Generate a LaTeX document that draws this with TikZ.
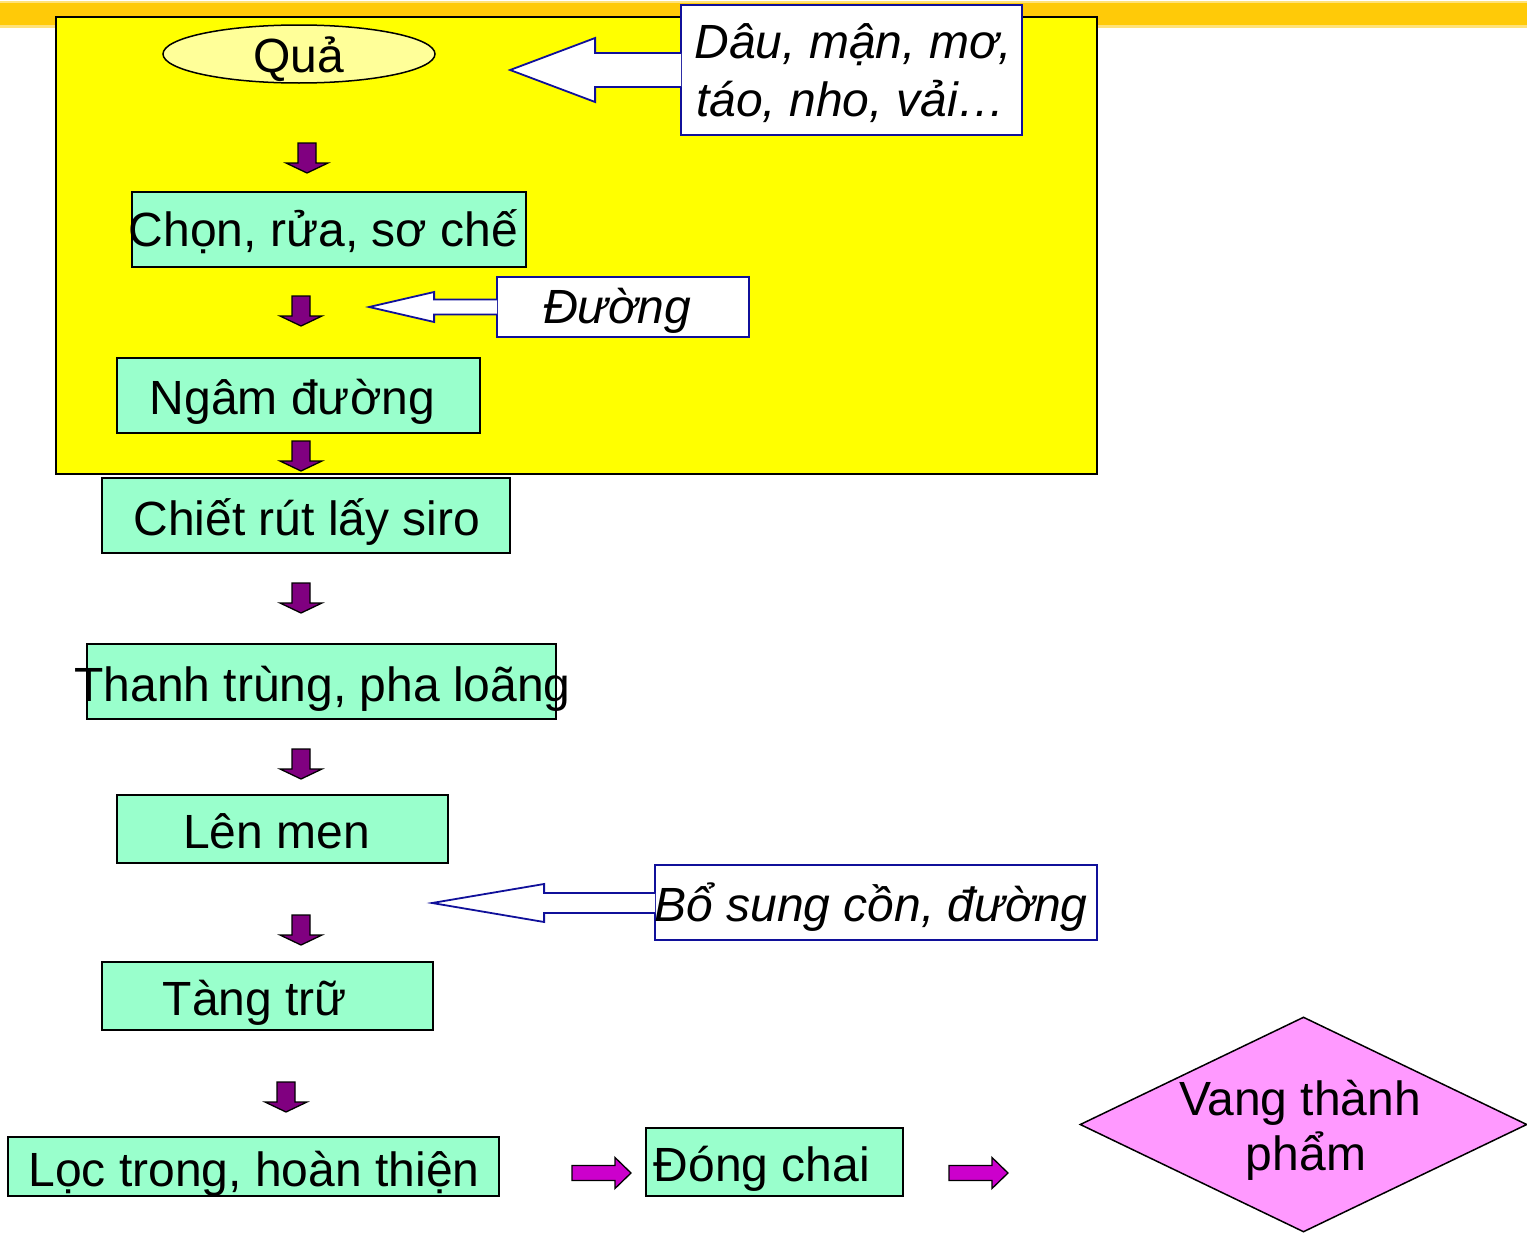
\documentclass[tikz,border=0pt]{standalone}
\usepackage{fontspec}
\setmainfont{Liberation Sans}
\usetikzlibrary{shapes.geometric,calc}
\definecolor{barorange}{HTML}{FFCA08}
\definecolor{barlight}{HTML}{FFE27A}
\definecolor{panelyellow}{HTML}{FFFF00}
\definecolor{stepgreen}{HTML}{99FFCC}
\definecolor{fruityellow}{HTML}{FFFF99}
\definecolor{inputnavy}{HTML}{10109A}
\definecolor{arrpurple}{HTML}{800080}
\definecolor{arrmagenta}{HTML}{CC00CC}
\definecolor{prodpink}{HTML}{FF99FF}
\begin{document}
\begin{tikzpicture}[x=1pt,y=-1pt,
  stepbox/.style={draw=black, line width=1.5pt, fill=stepgreen, rectangle, inner sep=0pt},
  inputbox/.style={draw=inputnavy, line width=1.8pt, fill=white, rectangle, inner sep=0pt},
  lbl/.style={anchor=base, inner sep=0pt, font=\fontsize{48}{57}\selectfont},
  ilbl/.style={anchor=base, inner sep=0pt, font=\fontsize{48}{57}\selectfont\itshape},
  hollow/.style={draw=inputnavy, line width=1.8pt, fill=white, line join=miter},
  downarr/.pic={\draw[fill=arrpurple, line width=1.3pt, line join=miter]
      (-9,0)--(9,0)--(9,20)--(21,20)--(0,30)--(-21,20)--(-9,20)--cycle;},
  rightarr/.pic={\draw[fill=arrmagenta, line width=1.3pt, line join=miter]
      (0,-7.5)--(43,-7.5)--(43,-15.5)--(59,0)--(43,15.5)--(43,7.5)--(0,7.5)--cycle;}
]
\useasboundingbox (0,0) rectangle (1527,1234);
% top bar
\fill[barlight] (0,1) rectangle (1527,28);
\fill[barorange] (0,3) rectangle (1527,25);
% yellow panel
\node[draw=black, line width=2pt, fill=panelyellow, rectangle, inner sep=0pt,
      minimum width=1041pt, minimum height=457pt] (panel) at (576.5,245.5) {};
% fruit ellipse
\node[draw=black, line width=1.5pt, fill=fruityellow, ellipse, inner sep=0pt,
      minimum width=272pt, minimum height=58pt] (qua) at (299,54) {};
% input boxes
\node[inputbox, minimum width=341pt, minimum height=130pt] (dau) at (851.5,70) {};
\node[inputbox, minimum width=252pt, minimum height=60pt] (duong) at (623,307) {};
\node[inputbox, minimum width=442pt, minimum height=75pt] (bosung) at (876,902.5) {};
% process boxes
\node[stepbox, minimum width=394pt, minimum height=75pt] (chon) at (329,229.5) {};
\node[stepbox, minimum width=363pt, minimum height=75pt] (ngam) at (298.5,395.5) {};
\node[stepbox, minimum width=408pt, minimum height=75pt] (chiet) at (306,515.5) {};
\node[stepbox, minimum width=469pt, minimum height=75pt] (thanh) at (321.5,681.5) {};
\node[stepbox, minimum width=331pt, minimum height=68pt] (lenmen) at (282.5,829) {};
\node[stepbox, minimum width=331pt, minimum height=68pt] (tang) at (267.5,996) {};
\node[stepbox, minimum width=491pt, minimum height=59pt] (loc) at (253.5,1166.5) {};
\node[stepbox, minimum width=257pt, minimum height=68pt] (dong) at (774.5,1162) {};
% product diamond
\node[draw=black, line width=1.5pt, fill=prodpink, diamond, aspect=2.08, inner sep=0pt,
      minimum width=447pt, minimum height=215pt] (vang) at (1303.5,1124.5) {};
% hollow input arrows
\draw[hollow] ([shift={(1,-17)}]dau.west) -- ++(-86,0) -- ++(0,-15) -- ++(-85,32)
   -- ++(85,32) -- ++(0,-15) -- ++(86,0);
\draw[hollow] ([shift={(1,-7.5)}]duong.west) -- ++(-63,0) -- ++(0,-7.5) -- ++(-65,15)
   -- ++(65,15) -- ++(0,-7.5) -- ++(63,0);
\draw[hollow] ([shift={(1,-9.5)}]bosung.west) -- ++(-111,0) -- ++(0,-9) -- ++(-112,19)
   -- ++(112,19) -- ++(0,-9) -- ++(111,0);
% down arrows
\pic (d1) at (307,143) {downarr};
\pic (d2) at (301,296) {downarr};
\pic (d3) at (301,441) {downarr};
\pic (d4) at (301,583) {downarr};
\pic (d5) at (301,749) {downarr};
\pic (d6) at (301,915) {downarr};
\pic (d7) at (286,1082) {downarr};
% right arrows
\pic (r1) at (572,1173) {rightarr};
\pic (r2) at (949,1173) {rightarr};
% texts
\node[lbl] (quaT) at (299,72) {Quả};
\node[ilbl] (dauT1) at (853,58) {Dâu, mận, mơ,};
\node[ilbl] (dauT2) at (851,116) {táo, nho, vải…};
\node[lbl] (chonT) at (323.5,246) {Chọn, rửa, sơ chế};
\node[ilbl] (duongT) at (617,323) {Đường};
\node[lbl] (ngamT) at (292.5,414) {Ngâm đường};
\node[lbl] (chietT) at (307,535) {Chiết rút lấy siro};
\node[lbl] (thanhT) at (322.5,701) {Thanh trùng, pha loãng};
\node[lbl] (lenT) at (276.5,848) {Lên men};
\node[ilbl] (bsT) at (871,921) {Bổ sung cồn, đường};
\node[lbl] (tangT) at (255,1015) {Tàng trữ};
\node[lbl] (locT) at (254,1186) {Lọc trong, hoàn thiện};
\node[lbl] (dongT) at (762,1181) {Đóng chai};
\node[lbl] (vangT1) at (1300,1115) {Vang thành};
\node[lbl] (vangT2) at (1306,1170) {phẩm};
\end{tikzpicture}
\end{document}
